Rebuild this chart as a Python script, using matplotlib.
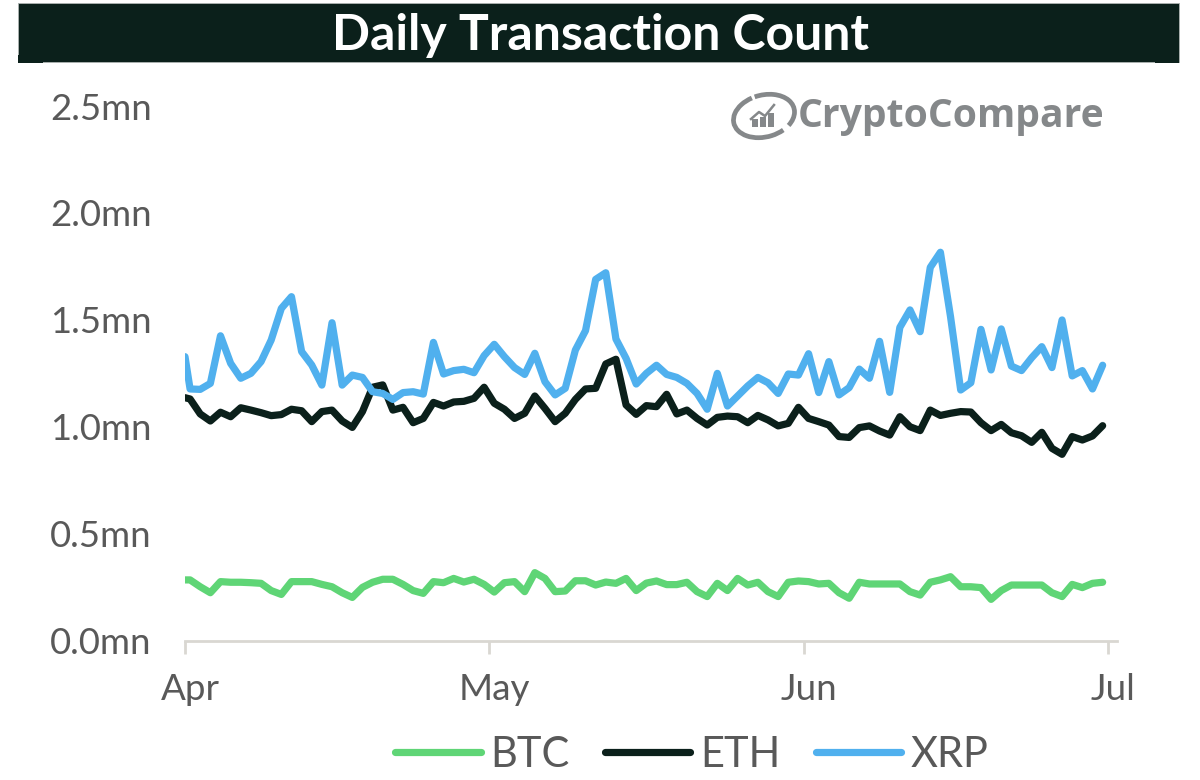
import numpy as np
import pandas as pd
import matplotlib
matplotlib.use("Agg")
import matplotlib.pyplot as plt
import matplotlib.transforms as mtrans
from matplotlib.patches import Arc, Rectangle

plt.rcParams['font.family'] = ['Lato', 'DejaVu Sans']

TITLE = "Daily Transaction Count"
SERIES_NAMES = ["BTC", "ETH", "XRP"]
Y_TICKS = [0.0, 0.5, 1.0, 1.5, 2.0, 2.5]
Y_LABELS = ["0.0mn", "0.5mn", "1.0mn", "1.5mn", "2.0mn", "2.5mn"]
X_TICKS = ["2019-04-01", "2019-05-01", "2019-06-01", "2019-07-01"]
X_LABELS = ["Apr", "May", "Jun", "Jul"]

btc = [0.286, 0.286, 0.254, 0.226, 0.278, 0.275, 0.275, 0.273, 0.270, 0.236, 0.218,
       0.278, 0.278, 0.278, 0.265, 0.254, 0.226, 0.204, 0.251, 0.275, 0.289, 0.289,
       0.265, 0.236, 0.223, 0.278, 0.273, 0.293, 0.276, 0.289, 0.265, 0.229, 0.273,
       0.278, 0.231, 0.320, 0.293, 0.231, 0.234, 0.282, 0.282, 0.262, 0.276, 0.270,
       0.293, 0.236, 0.271, 0.281, 0.264, 0.264, 0.275, 0.231, 0.208, 0.270, 0.236,
       0.293, 0.262, 0.275, 0.231, 0.208, 0.275, 0.281, 0.278, 0.267, 0.270, 0.226,
       0.200, 0.275, 0.267, 0.267, 0.267, 0.267, 0.231, 0.215, 0.275, 0.286, 0.301,
       0.254, 0.254, 0.250, 0.195, 0.236, 0.262, 0.262, 0.262, 0.262, 0.226, 0.208,
       0.265, 0.250, 0.270, 0.275]
eth = [1.139, 1.133, 1.063, 1.030, 1.071, 1.050, 1.092, 1.081, 1.069, 1.055, 1.060,
       1.085, 1.078, 1.027, 1.074, 1.081, 1.030, 1.000, 1.074, 1.188, 1.199, 1.081,
       1.094, 1.022, 1.042, 1.117, 1.100, 1.119, 1.122, 1.136, 1.188, 1.113, 1.085,
       1.042, 1.066, 1.147, 1.089, 1.027, 1.066, 1.131, 1.180, 1.183, 1.297, 1.319,
       1.105, 1.061, 1.102, 1.097, 1.155, 1.063, 1.081, 1.042, 1.011, 1.047, 1.053,
       1.050, 1.022, 1.056, 1.035, 1.007, 1.019, 1.094, 1.042, 1.027, 1.011, 0.957,
       0.953, 0.999, 1.007, 0.983, 0.964, 1.050, 1.003, 0.985, 1.081, 1.056, 1.066,
       1.074, 1.072, 1.022, 0.985, 1.014, 0.975, 0.961, 0.930, 0.977, 0.902, 0.874,
       0.957, 0.941, 0.960, 1.008]
xrp = [1.331, 1.180, 1.178, 1.206, 1.429, 1.300, 1.230, 1.253, 1.308, 1.409, 1.557,
       1.612, 1.355, 1.292, 1.198, 1.490, 1.198, 1.245, 1.234, 1.167, 1.159, 1.131,
       1.163, 1.167, 1.156, 1.398, 1.250, 1.266, 1.272, 1.256, 1.336, 1.389, 1.331,
       1.280, 1.248, 1.347, 1.214, 1.152, 1.183, 1.362, 1.453, 1.693, 1.724, 1.414,
       1.323, 1.203, 1.253, 1.291, 1.248, 1.234, 1.206, 1.159, 1.085, 1.253, 1.100,
       1.147, 1.194, 1.234, 1.209, 1.159, 1.250, 1.245, 1.345, 1.163, 1.308, 1.152,
       1.186, 1.273, 1.230, 1.403, 1.164, 1.468, 1.550, 1.448, 1.749, 1.820, 1.518,
       1.175, 1.209, 1.459, 1.269, 1.461, 1.287, 1.266, 1.326, 1.378, 1.280, 1.503,
       1.241, 1.266, 1.180, 1.291]

dates = pd.DatetimeIndex(["2019-04-01 00:00"]).append(
    pd.date_range("2019-04-01 12:00", periods=91, freq="D"))

W, H = 1200, 780
fig = plt.figure(figsize=(W / 100, H / 100), dpi=100, facecolor="white")

# canvas in pixels for the banner and logo
bg = fig.add_axes([0, 0, 1, 1], zorder=0)
bg.set_xlim(0, W)
bg.set_ylim(H, 0)
bg.axis("off")
DARK = "#0B201B"
bg.add_patch(Rectangle((18, 2.5), 1161, 59, fc=DARK, ec="#A9B0AE", lw=0.7))
bg.add_patch(Rectangle((18, 55), 25, 7.5, fc=DARK, ec="none"))
bg.add_patch(Rectangle((1155, 55), 24, 7.5, fc=DARK, ec="none"))
bg.text(600, 35, TITLE, color="white", fontsize=36, fontweight="bold",
        ha="center", va="center")

# logo
LOGO = "#85888A"
bg.text(798, 117, "CryptoCompare", color=LOGO, fontsize=28.2, fontweight="bold",
        family="Open Sans", ha="left", va="center")
bg.add_patch(Arc((764, 116), 62, 42, angle=-14, theta1=50, theta2=250, color=LOGO, lw=3.4))
bg.add_patch(Arc((764, 116), 62, 42, angle=-14, theta1=258, theta2=395, color=LOGO, lw=3.4))
bg.plot([751, 759, 765, 774], [119, 112, 116, 105], color=LOGO, lw=1.8)
for bx, bh in [(752, 8), (760, 10), (768, 14)]:
    bg.add_patch(Rectangle((bx, 127 - bh), 5.5, bh, fc=LOGO, ec="none"))

left, right, top, bottom = 185, 1117, 107, 641
ax = fig.add_axes([left / W, 1 - bottom / H, (right - left) / W, (bottom - top) / H], zorder=2)
ax.patch.set_alpha(0)
colors = ["#5FD576", "#0B201B", "#50B0EE"]
for name, vals, c in zip(SERIES_NAMES, [btc, eth, xrp], colors):
    ax.plot(dates, vals, color=c, lw=5.2, label=name, solid_joinstyle="round",
            solid_capstyle="round")

ax.set_xlim(pd.Timestamp("2019-04-01"), pd.Timestamp("2019-07-01 22:00"))
ax.set_ylim(0, 2.5)
ax.set_yticks(Y_TICKS, Y_LABELS)
ax.set_xticks(pd.to_datetime(X_TICKS), X_LABELS)
for s in ["top", "right", "left"]:
    ax.spines[s].set_visible(False)
ax.spines["bottom"].set_color("#D9D7D2")
ax.spines["bottom"].set_linewidth(2)
ax.tick_params(axis="y", length=0, pad=24, labelsize=26.3, labelcolor="#595959")
ax.tick_params(axis="x", length=9, width=2, color="#D9D7D2", pad=14, labelsize=26.5,
               labelcolor="#595959")
shift_x = mtrans.ScaledTranslation(5 / 100, 0, fig.dpi_scale_trans)
for lab in ax.get_xticklabels():
    lab.set_transform(lab.get_transform() + shift_x)
shift_y = mtrans.ScaledTranslation(0, 1 / 100, fig.dpi_scale_trans)
for lab in ax.get_yticklabels():
    lab.set_transform(lab.get_transform() + shift_y)

fig.legend(loc="center", bbox_to_anchor=(692 / W, 1 - 755 / H), ncols=3, frameon=False,
           fontsize=30, labelcolor="#595959", handlelength=2.05, handletextpad=0.24,
           columnspacing=0.84, borderpad=0, borderaxespad=0)

fig.savefig("out.png", dpi=100)
